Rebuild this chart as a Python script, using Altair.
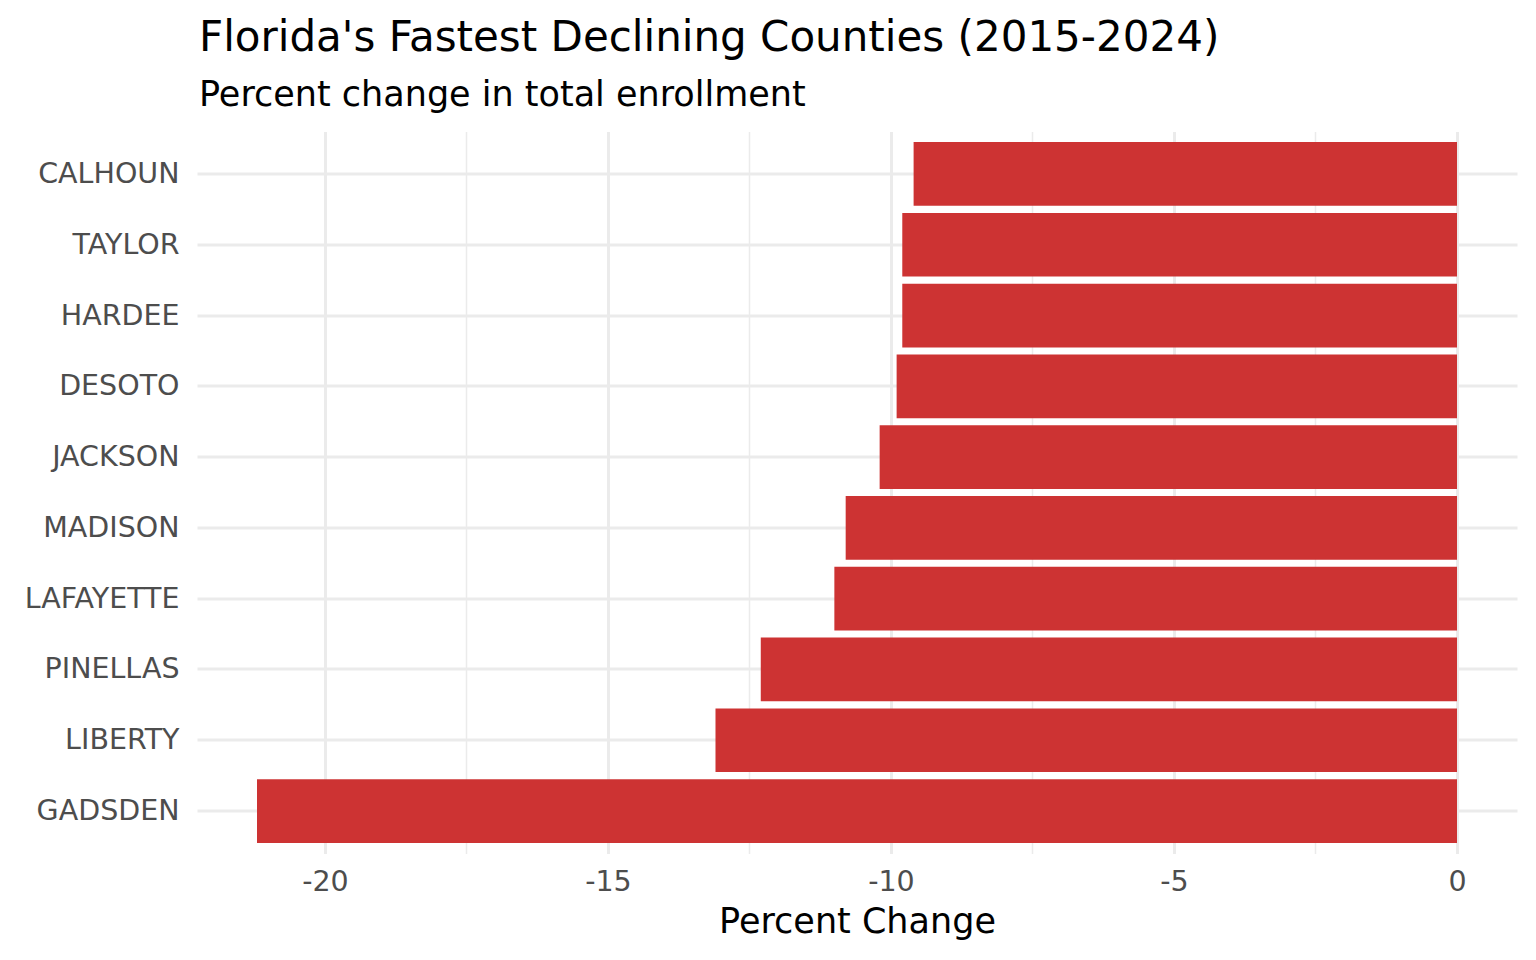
import altair as alt
import pandas as pd

counties = ["CALHOUN", "TAYLOR", "HARDEE", "DESOTO", "JACKSON",
            "MADISON", "LAFAYETTE", "PINELLAS", "LIBERTY", "GADSDEN"]
pct_change = [-9.6, -9.8, -9.8, -9.9, -10.2, -10.8, -11.0, -12.3, -13.1, -21.2]
x_ticks = [-20, -17.5, -15, -12.5, -10, -7.5, -5, -2.5, 0]

df = pd.DataFrame({"county": counties, "pct": pct_change})

FONT = "DejaVu Sans"

chart = alt.Chart(df).mark_bar(color="#CD3333").encode(
    x=alt.X("pct:Q", title="Percent Change",
            scale=alt.Scale(domain=[-22.26, 1.06], nice=False, zero=False),
            axis=alt.Axis(values=x_ticks, ticks=False, domain=False,
                          labelExpr="datum.value % 5 === 0 ? '' + datum.value : ''",
                          labelFont=FONT, labelFontSize=28.5, labelColor="#4d4d4d",
                          labelPadding=14,
                          titleFont=FONT, titleFontSize=35, titleColor="#000000",
                          titleFontWeight="normal", titlePadding=8,
                          gridColor="#ebebeb",
                          gridWidth={"condition": {"test": "datum.value % 5 === 0", "value": 3}, "value": 1.5})),
    y=alt.Y("county:N", sort=counties, title=None,
            scale=alt.Scale(paddingInner=0.1, paddingOuter=0.15),
            axis=alt.Axis(ticks=False, domain=False, bandPosition=0.5, grid=True,
                          labelFont=FONT, labelFontSize=28.5, labelColor="#4d4d4d",
                          labelPadding=18, gridColor="#ebebeb", gridWidth=3)),
).properties(
    width=1320, height=722,
    background="#ffffff",
    autosize=alt.AutoSizeParams(type="none"),
    padding={"left": 189, "top": 123.5, "right": 11, "bottom": 98.5},
    title=alt.TitleParams(
        text="Florida's Fastest Declining Counties (2015-2024)",
        subtitle="Percent change in total enrollment",
        anchor="start", frame="group", font=FONT, fontSize=42,
        fontWeight="normal", color="#000000",
        subtitleFont=FONT, subtitleFontSize=35, subtitleColor="#000000",
        subtitlePadding=18, offset=18, dx=2),
).configure_view(strokeWidth=0, stroke="transparent")

chart.save("out.html", embed_options={"renderer": "svg", "actions": False})
